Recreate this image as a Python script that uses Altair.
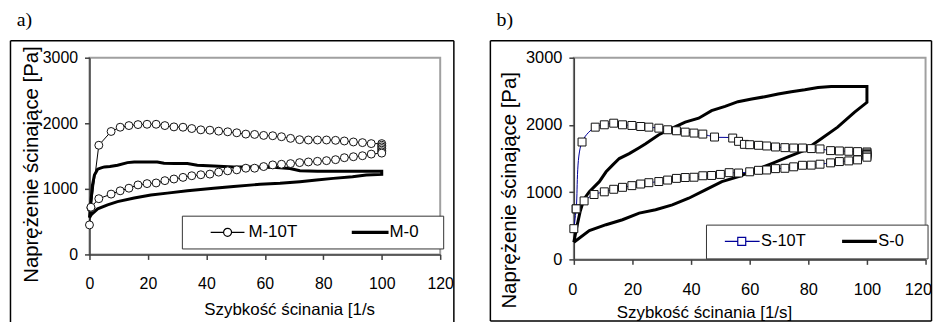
import altair as alt
import pandas as pd

# ---------------- data: panel a) ----------------
SERIES_A = ["M-10T", "M-0"]
M10T_UP_X = [0, 0.5, 3.2, 7.4, 10.5, 13.5, 16.6, 19.7, 22.8, 25.8, 28.9, 32.0, 35.0, 38.1, 41.2, 44.2, 47.3,
             50.4, 53.5, 56.5, 59.6, 62.7, 65.7, 68.8, 71.9, 74.9, 78.0, 81.1, 84.2, 87.2, 90.3, 93.4, 96.4, 100]
M10T_UP_Y = [450, 710, 1665, 1875, 1940, 1965, 1980, 1985, 1985, 1965, 1945, 1940, 1920, 1900, 1895, 1880, 1870,
             1855, 1835, 1830, 1815, 1810, 1795, 1770, 1750, 1745, 1745, 1745, 1740, 1730, 1715, 1705, 1690, 1690]
M10T_HOLD_Y = [1665, 1640, 1615, 1590, 1565]
M10T_DOWN_X = [100, 96.4, 93.4, 90.3, 87.2, 84.2, 81.1, 78.0, 74.9, 71.9, 68.8, 65.7, 62.7, 59.6, 56.5, 53.5,
               50.4, 47.3, 44.2, 41.2, 38.1, 35.0, 32.0, 28.9, 25.8, 22.8, 19.7, 16.6, 13.5, 10.5, 7.4, 3.2, 0.5]
M10T_DOWN_Y = [1545, 1530, 1505, 1490, 1475, 1445, 1430, 1420, 1410, 1400, 1385, 1375, 1365, 1340, 1315, 1315,
               1290, 1275, 1255, 1225, 1215, 1200, 1175, 1150, 1125, 1090, 1080, 1060, 1010, 970, 920, 850, 720]

M0_UP_X = [0, 0.5, 1.0, 1.7, 2.8, 4.0, 5.1, 7.0, 9.6, 13.0, 15.3, 19.8, 23.2, 25.5, 29.0, 33.5, 36.9, 42.5,
           49.3, 56.1, 64.0, 68.6, 72.0, 78.0, 83.4, 90.0, 100]
M0_UP_Y = [560, 800, 1050, 1210, 1300, 1320, 1335, 1340, 1360, 1400, 1410, 1410, 1410, 1390, 1385, 1385, 1360,
           1350, 1335, 1335, 1325, 1310, 1275, 1270, 1270, 1270, 1270]
M0_DOWN_X = [100, 94.7, 90.0, 83.4, 77.7, 72.0, 65.2, 58.4, 49.3, 42.5, 33.5, 26.6, 21.0, 15.3, 9.6, 6.2, 2.8, 0.6, 0]
M0_DOWN_Y = [1220, 1210, 1185, 1160, 1135, 1110, 1085, 1070, 1035, 1010, 970, 935, 905, 860, 805, 755, 695, 605, 560]

# ---------------- data: panel b) ----------------
SERIES_B = ["S-10T", "S-0"]
S10T_UP_X = [0, 0.8, 2.8, 7.3, 10.4, 13.6, 16.6, 19.8, 22.8, 25.6, 29.0, 32.0, 35.0, 38.0, 41.0, 44.0, 48.0,
             54.2, 56.2, 58.2, 60.0, 63.0, 65.8, 68.8, 72.0, 75.0, 78.0, 81.0, 84.0, 87.6, 90.6, 93.8, 96.8, 100]
S10T_UP_Y = [457, 752, 1746, 1967, 2002, 2026, 2002, 1992, 1977, 1967, 1952, 1928, 1913, 1893, 1879, 1864, 1820,
             1805, 1756, 1711, 1706, 1697, 1687, 1672, 1662, 1657, 1657, 1648, 1643, 1618, 1613, 1608, 1603, 1598]
S10T_HOLD_Y = [1580, 1560, 1540]
S10T_DOWN_X = [100, 96.8, 93.8, 90.6, 87.6, 84.0, 81.0, 78.0, 75.0, 72.0, 68.8, 65.8, 63.0, 60.0, 56.2, 53.0,
               50.0, 47.0, 44.0, 41.0, 38.0, 35.0, 32.0, 29.0, 25.6, 22.8, 19.8, 16.6, 13.6, 10.4, 6.9, 3.5, 0.8]
S10T_DOWN_Y = [1520, 1480, 1465, 1455, 1436, 1416, 1402, 1400, 1377, 1355, 1350, 1330, 1325, 1303, 1285, 1290,
               1264, 1248, 1244, 1222, 1218, 1205, 1180, 1158, 1141, 1121, 1097, 1072, 1043, 1005, 965, 870, 752]

S0_UP_X = [0, 1.0, 2.2, 3.5, 5.3, 8.7, 11.0, 13.2, 15.5, 18.9, 22.3, 24.5, 29.0, 33.6, 38.0, 42.6, 47.0, 51.6,
           56.0, 60.7, 65.2, 69.7, 74.2, 78.8, 83.3, 87.8, 92.3, 100]
S0_UP_Y = [255, 480, 720, 900, 1008, 1156, 1303, 1402, 1500, 1574, 1662, 1721, 1854, 1952, 2041, 2100, 2213, 2277,
           2346, 2385, 2420, 2459, 2493, 2523, 2557, 2572, 2572, 2572]
S0_DOWN_X = [100, 95.7, 90.0, 84.4, 78.8, 73.1, 67.5, 61.8, 56.2, 50.5, 44.9, 39.2, 33.6, 27.9, 22.3, 16.6, 11.0, 5.3, 0]
S0_DOWN_Y = [2336, 2188, 1967, 1795, 1623, 1525, 1426, 1328, 1230, 1156, 1033, 910, 811, 738, 688, 590, 516, 428, 255]

X_TICKS = [0, 20, 40, 60, 80, 100, 120]
Y_TICKS = [0, 1000, 2000, 3000]


def seq(xs, ys):
    return pd.DataFrame({"x": xs, "y": ys, "i": list(range(len(xs)))})


df_m10t = seq(M10T_UP_X + [100] * len(M10T_HOLD_Y) + M10T_DOWN_X, M10T_UP_Y + M10T_HOLD_Y + M10T_DOWN_Y)
df_m0 = seq(M0_UP_X + M0_DOWN_X, M0_UP_Y + M0_DOWN_Y)
df_s10t = seq(S10T_UP_X + [100] * len(S10T_HOLD_Y) + S10T_DOWN_X, S10T_UP_Y + S10T_HOLD_Y + S10T_DOWN_Y)
df_s0 = seq(S0_UP_X + S0_DOWN_X, S0_UP_Y + S0_DOWN_Y)

SANS = "Liberation Sans"
ONE = pd.DataFrame({"k": [0]})


def seg(x1, x2, y1, y2):
    return alt.Chart(ONE).mark_rule(color="black", strokeWidth=1.5).encode(
        x=alt.value(x1), x2=alt.value(x2), y=alt.value(y1), y2=alt.value(y2))


def panel(p):
    x_enc = alt.X("x:Q", scale=alt.Scale(domain=[0, 120], nice=False, zero=False),
                  axis=alt.Axis(values=X_TICKS, title=p["xtitle"], grid=False, format="d",
                                labelFlush=p["flush"], labelFlushOffset=p["flushoff"],
                                labelFont=SANS, labelFontSize=p["tick_fs"], labelColor="black",
                                labelPadding=p["xlabpad"], tickSize=5, tickWidth=1.5, tickColor="#404040",
                                domainColor="#404040", domainWidth=1.5,
                                titleFont=SANS, titleFontSize=17, titleFontWeight="normal", titleColor="black",
                                titleX=p["xtx"], titleY=p["xty"], titleAlign="center", titleBaseline="middle"))
    y_enc = alt.Y("y:Q", scale=alt.Scale(domain=[0, 3000], nice=False),
                  axis=alt.Axis(values=Y_TICKS, title=p["ytitle"], grid=False, format="d",
                                labelFont=SANS, labelFontSize=p["tick_fs"], labelColor="black",
                                labelPadding=7, tickSize=5, tickWidth=1.5, tickColor="#404040",
                                domainColor="#404040", domainWidth=1.5,
                                titleFont=SANS, titleFontSize=20.5, titleFontWeight="normal", titleColor="black",
                                titleAngle=270, titleX=p["ytx"], titleY=p["yty"], titleAlign="center",
                                titleBaseline="middle"))
    l, r, t, b = p["frame"]
    frame = [seg(l, r, t, t), seg(l, l, t, b), seg(r, r, t, b)]
    if p["closed"]:
        frame.append(seg(l, r, b, b))
    thick = alt.Chart(p["thick"]).mark_line(color="black", strokeWidth=3).encode(
        x=x_enc, y=y_enc, order="i:Q")
    thin = alt.Chart(p["thin"]).mark_line(color=p["thin_color"], strokeWidth=1,
                                          interpolate=p["interp"]).encode(x=x_enc, y=y_enc, order="i:Q")
    pts = alt.Chart(p["thin"]).mark_point(shape=p["marker"], size=64, filled=True, fill="white",
                                          stroke="#111111", strokeWidth=1, opacity=1).encode(x=x_enc, y=y_enc)
    leg = alt.Legend(orient="none", legendX=p["lx"], legendY=p["ly"], direction="horizontal",
                     title=" ", titleOrient="left", titleFontSize=1, titlePadding=p["lindent"],
                     padding=p["lpad"], columnPadding=p["lcolpad"], labelOffset=p["loff"],
                     labelFont=SANS, labelFontSize=p["lfs"], labelColor="black",
                     symbolSize=4, symbolStrokeWidth=1.2, symbolOpacity=1,
                     strokeColor="#333333", fillColor="white")
    legend_layer = alt.Chart(pd.DataFrame({"series": p["series"]})).mark_point(opacity=0, filled=False).encode(
        x=alt.value(0), y=alt.value(0),
        shape=alt.Shape("series:N", scale=alt.Scale(domain=p["series"], range=p["paths"]), legend=leg),
        color=alt.Color("series:N", scale=alt.Scale(domain=p["series"], range=p["colors"]), legend=leg),
    )
    return alt.layer(*frame, thick, thin, pts, legend_layer).properties(
        width=p["w"], height=p["h"],
        title=alt.TitleParams(text=p["title"], anchor="start", frame="bounds", font="Liberation Serif",
                              fontSize=20, fontWeight="normal", color="black", dx=7, offset=10),
    )


pa = panel(dict(
    title="a)", w=353, h=198, frame=[-79.5, 366.75, -17, 266], closed=False,
    xtitle="Szybkość ścinania [1/s", ytitle="Naprężenie ścinające [Pa]",
    tick_fs=16, xlabpad=16, flush=False, flushoff=0, xtx=201, xty=55, ytx=-58, yty=107,
    thick=df_m0, thin=df_m10t, thin_color="black", interp="linear", marker="circle",
    series=SERIES_A, colors=["black", "black"],
    paths=["M-8.5,0H4.5M12.5,0H25.5M12.5,0A4,4,0,1,1,4.5,0A4,4,0,1,1,12.5,0",
           "M-8.5,-1H28.5M-8.5,0H28.5M-8.5,1H28.5M73,0L73,0.01"],
    lx=93, ly=159, lpad=8, lindent=21, lcolpad=51, loff=21, lfs=17,
))

pb = panel(dict(
    title="b)", w=354, h=203, frame=[-84, 360, -17, 265], closed=True,
    xtitle="Szybkość ścinania [1/s]", ytitle="Naprężenie ścinające [Pa]",
    tick_fs=16.5, xlabpad=17.5, flush=True, flushoff=6, xtx=131, xty=53, ytx=-65, yty=133,
    thick=df_s0, thin=df_s10t, thin_color="#000099", interp="catmull-rom", marker="square",
    series=SERIES_B, colors=["#000099", "black"],
    paths=["M-8.25,0H4.75M12.75,0H26.75M4.75,-4H12.75V4H4.75Z",
           "M-8.25,-1H26.75M-8.25,0H26.75M-8.25,1H26.75M66,0L66,0.01"],
    lx=133, ly=168, lpad=8.5, lindent=10.5, lcolpad=33, loff=20, lfs=16.5,
))

chart = alt.hconcat(pa, pb, spacing=32.5).resolve_scale(
    shape="independent", color="independent"
).resolve_legend(
    shape="independent", color="independent"
).properties(padding=0).configure_view(
    stroke="#a0a0a0", strokeWidth=2
)

chart.save("out.html", embed_options={"renderer": "svg", "actions": False})
